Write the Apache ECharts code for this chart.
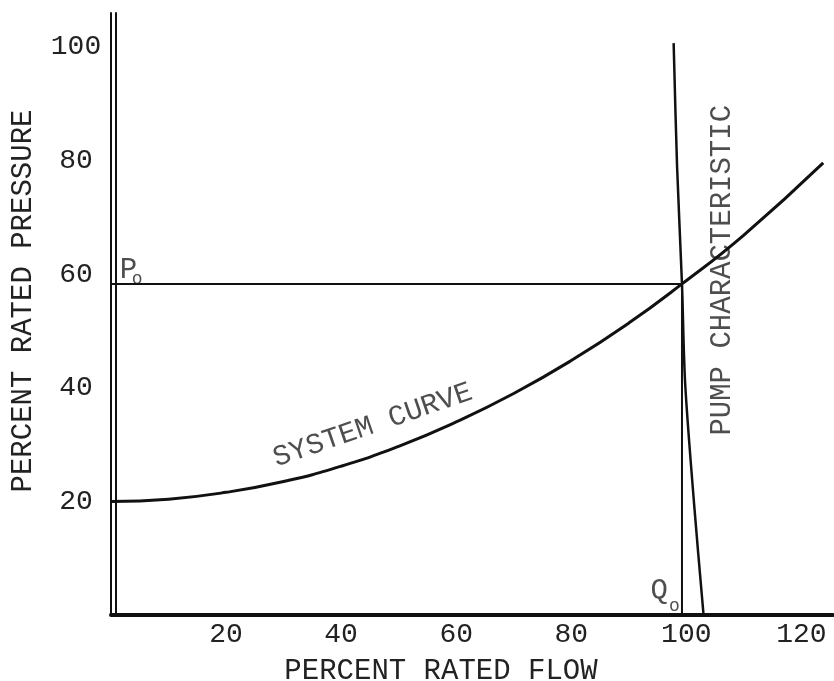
<!DOCTYPE html>
<html>
<head>
<meta charset="utf-8">
<script src="https://cdn.jsdelivr.net/npm/echarts@6/dist/echarts.min.js"></script>
<style>
  html, body { margin: 0; padding: 0; background: #fff; }
  #chart { width: 834px; height: 681px; }
</style>
</head>
<body>
<div id="chart"></div>
<script>
// values
const sysFlow = [0, 10, 20, 30, 40, 50, 60, 70, 80, 90, 99.25, 110, 123.8];
const sysPressure = [20, 20.4, 21.6, 23.5, 26.2, 29.7, 34.0, 39.0, 44.8, 51.4, 58.3, 66.9, 79.6];

const pumpFlow = [97.8, 98.4, 99.25, 99.8, 101.4, 103.0];
const pumpPressure = [100.7, 78.9, 58.3, 40.8, 19, 0];

const q0 = 99.25; // operating flow
const p0 = 58.3;  // operating pressure

const xTicks = [20, 40, 60, 80, 100, 120];
const yTicks = [20, 40, 60, 80, 100];

const FONT = '"Liberation Mono", "Courier New", monospace';
const INK = '#111';
const TXT = '#222';

function pairs(xs, ys) {
  return xs.map((x, i) => [x, ys[i]]);
}

var chartDom = document.getElementById('chart');
var myChart = echarts.init(chartDom);
var option;

option = {
  animation: false,
  backgroundColor: '#fff',
  grid: { left: 111, right: 1, top: 13, bottom: 66, containLabel: false, outerBoundsMode: 'none' },
  xAxis: {
    type: 'value',
    min: 0,
    max: 125.5,
    interval: 20,
    name: 'PERCENT RATED FLOW',
    nameLocation: 'middle',
    nameGap: 42,
    nameTextStyle: { fontFamily: FONT, fontSize: 29, color: TXT, padding: [0, 62, 0, 0] },
    axisLine: { show: true, onZero: false, lineStyle: { color: INK, width: 4 } },
    axisTick: { show: false },
    splitLine: { show: false },
    axisLabel: {
      fontFamily: FONT, fontSize: 28, color: TXT, margin: 6,
      formatter: v => xTicks.includes(v) ? String(v) : ''
    }
  },
  yAxis: [
    {
      type: 'value',
      min: 0,
      max: 106,
      interval: 20,
      name: 'PERCENT RATED PRESSURE',
      nameLocation: 'middle',
      nameRotate: 90,
      nameGap: 73,
      nameTextStyle: { fontFamily: FONT, fontSize: 29, color: TXT, padding: [0, 0, 0, 26] },
      axisLine: { show: true, onZero: false, lineStyle: { color: INK, width: 2 } },
      axisTick: { show: false },
      splitLine: { show: false },
      axisLabel: {
        fontFamily: FONT, fontSize: 28, color: TXT, margin: 35, align: 'center',
        formatter: v => yTicks.includes(v) ? String(v) : ''
      }
    },
    {
      // inner line of the double y axis
      type: 'value',
      min: 0,
      max: 106,
      position: 'left',
      offset: -5,
      axisLine: { show: true, onZero: false, lineStyle: { color: INK, width: 2 } },
      axisTick: { show: false },
      axisLabel: { show: false },
      splitLine: { show: false }
    }
  ],
  series: [
    {
      name: 'system curve',
      type: 'line',
      smooth: true,
      symbol: 'none',
      lineStyle: { color: INK, width: 3 },
      data: pairs(sysFlow, sysPressure)
    },
    {
      name: 'pump characteristic',
      type: 'line',
      smooth: 0.3,
      symbol: 'none',
      lineStyle: { color: INK, width: 2.5 },
      data: pairs(pumpFlow, pumpPressure)
    },
    {
      name: 'Po',
      type: 'line',
      symbol: 'none',
      lineStyle: { color: INK, width: 2 },
      data: [[0, p0], [q0, p0]]
    },
    {
      name: 'Qo',
      type: 'line',
      symbol: 'none',
      lineStyle: { color: INK, width: 2 },
      data: [[q0, 0], [q0, p0]]
    },
    {
      name: 'notes',
      type: 'scatter',
      symbolSize: 0,
      silent: true,
      label: { show: true, position: [0, 0], fontFamily: FONT, color: TXT, fontSize: 29 },
      data: [
        { value: [1.5, p0], label: { formatter: 'P', align: 'left', verticalAlign: 'bottom', offset: [0, 1] } },
        { value: [1.5, p0], label: { formatter: 'o', fontSize: 18, align: 'left', verticalAlign: 'bottom', offset: [12, 4] } },
        { value: [q0, 0], label: { formatter: 'Q', align: 'right', verticalAlign: 'bottom', offset: [-14, -9] } },
        { value: [q0, 0], label: { formatter: 'o', fontSize: 18, align: 'left', verticalAlign: 'bottom', offset: [-13, 0] } },
        { value: [45.5, 33.4], label: { formatter: 'SYSTEM CURVE', rotate: 19, align: 'center', verticalAlign: 'middle' } },
        { value: [106.3, 60.7], label: { formatter: 'PUMP CHARACTERISTIC', rotate: 90, align: 'center', verticalAlign: 'middle' } }
      ]
    }
  ]
};

option && myChart.setOption(option);
</script>
</body>
</html>
